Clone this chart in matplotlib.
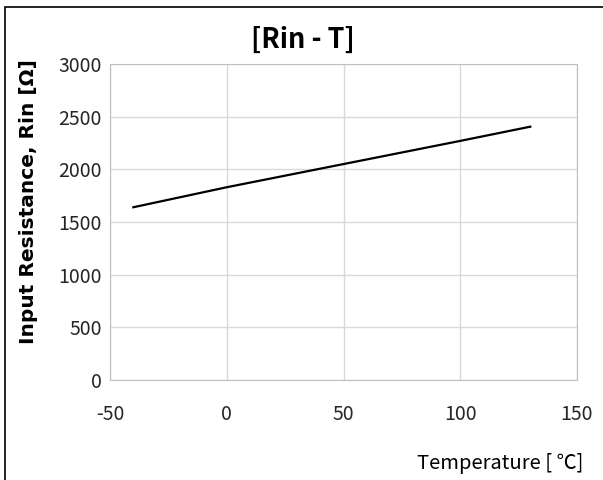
import matplotlib.pyplot as plt
from matplotlib.patches import Rectangle

plt.rcParams['font.family'] = ['Noto Sans CJK KR', 'DejaVu Sans']
plt.rcParams['axes.unicode_minus'] = False

temp = [-40, 0, 50, 100, 130]
rin = [1640, 1830, 2050, 2270, 2405]
xticks = [-50, 0, 50, 100, 150]
yticks = [0, 500, 1000, 1500, 2000, 2500, 3000]

fig = plt.figure(figsize=(6.03, 4.8), dpi=100)
ax = fig.add_axes([110/603, 1-380/480, 467/603, 316/480])

ax.plot(temp, rin, color='black', linewidth=1.6)
ax.set_xlim(-50, 150)
ax.set_ylim(0, 3000)
ax.set_xticks(xticks)
ax.set_yticks(yticks)
ax.grid(True, color='#d9d9d9', linewidth=1)
ax.set_axisbelow(True)
for s in ax.spines.values():
    s.set_color('#bfbfbf')
ax.tick_params(length=0, labelsize=14, colors='#262626', pad=6)
ax.tick_params(axis='x', pad=17)

fig.text(303/603, 1-40/480, '[Rin - T]', ha='center', va='center',
         fontsize=19.5, fontweight='bold')
fig.text(29/603, 1-202/480, 'Input Resistance, Rin [Ω]', ha='center', va='center',
         rotation=90, fontsize=14.5, fontweight='bold', family='DejaVu Sans')
fig.text(583/603, 1-463/480, 'Temperature [ ℃]', ha='right', va='center',
         fontsize=14.5, fontweight='medium')

# outer frame
fig.patches.append(Rectangle((5/603, -0.1), 1.2, 1 - 7/480 + 0.1, transform=fig.transFigure,
                             fill=False, edgecolor='black', linewidth=1.2))

fig.savefig('out.png', dpi=100)
